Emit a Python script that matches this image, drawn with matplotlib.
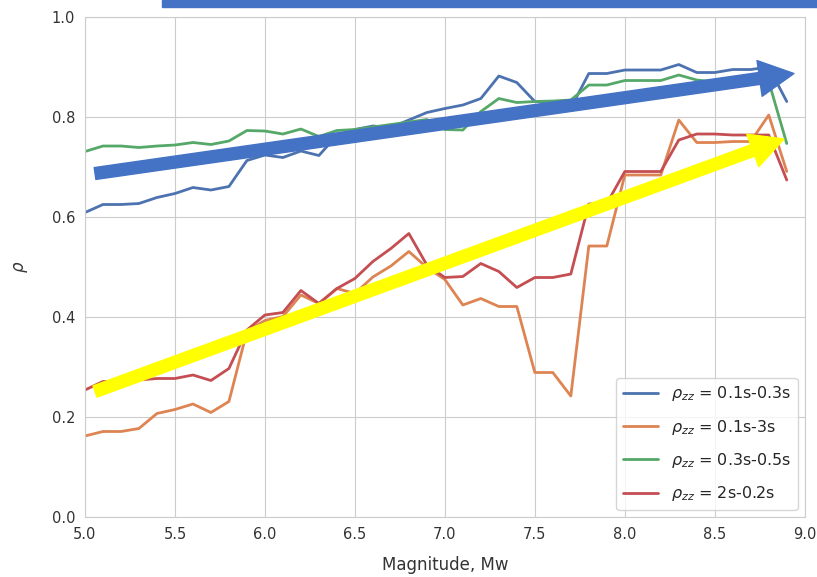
import numpy as np
import matplotlib
matplotlib.use('Agg')
import matplotlib.pyplot as plt
import seaborn as sns
from matplotlib.patches import FancyArrowPatch, ArrowStyle, Rectangle

mag = [5.0, 5.1, 5.2, 5.3, 5.4, 5.5, 5.6, 5.7, 5.8, 5.9,
       6.0, 6.1, 6.2, 6.3, 6.4, 6.5, 6.6, 6.7, 6.8, 6.9,
       7.0, 7.1, 7.2, 7.3, 7.4, 7.5, 7.6, 7.7, 7.8, 7.9,
       8.0, 8.1, 8.2, 8.3, 8.4, 8.5, 8.6, 8.7, 8.8, 8.9]

rho_01_03 = [0.609, 0.625, 0.625, 0.627, 0.639, 0.647, 0.659, 0.654, 0.661, 0.713,
             0.724, 0.719, 0.732, 0.723, 0.763, 0.775, 0.782, 0.779, 0.794, 0.809,
             0.817, 0.824, 0.837, 0.882, 0.869, 0.831, 0.830, 0.818, 0.887, 0.887,
             0.894, 0.894, 0.894, 0.905, 0.889, 0.889, 0.895, 0.895, 0.900, 0.831]
rho_01_3 = [0.162, 0.171, 0.171, 0.177, 0.207, 0.215, 0.226, 0.209, 0.231, 0.371,
            0.393, 0.401, 0.444, 0.427, 0.457, 0.447, 0.480, 0.502, 0.531, 0.499,
            0.475, 0.424, 0.437, 0.421, 0.421, 0.289, 0.289, 0.242, 0.542, 0.542,
            0.684, 0.684, 0.684, 0.794, 0.749, 0.749, 0.751, 0.751, 0.804, 0.691]
rho_03_05 = [0.731, 0.742, 0.742, 0.739, 0.742, 0.744, 0.749, 0.745, 0.752, 0.773,
             0.772, 0.766, 0.776, 0.761, 0.773, 0.775, 0.780, 0.785, 0.790, 0.795,
             0.775, 0.774, 0.811, 0.837, 0.829, 0.831, 0.832, 0.834, 0.864, 0.864,
             0.873, 0.873, 0.873, 0.884, 0.874, 0.870, 0.870, 0.868, 0.871, 0.747]
rho_2_02 = [0.254, 0.271, 0.271, 0.274, 0.277, 0.277, 0.284, 0.273, 0.297, 0.374,
            0.404, 0.409, 0.453, 0.427, 0.457, 0.477, 0.511, 0.537, 0.567, 0.504,
            0.479, 0.481, 0.507, 0.491, 0.459, 0.479, 0.479, 0.486, 0.626, 0.627,
            0.691, 0.691, 0.691, 0.754, 0.766, 0.766, 0.764, 0.764, 0.764, 0.674]

series = [(r'$\rho_{zz}$ = 0.1s-0.3s', rho_01_03),
          (r'$\rho_{zz}$ = 0.1s-3s', rho_01_3),
          (r'$\rho_{zz}$ = 0.3s-0.5s', rho_03_05),
          (r'$\rho_{zz}$ = 2s-0.2s', rho_2_02)]

# trend arrows (data coords: start -> tip)
blue_arrow = ((5.056, 0.687), (8.94, 0.887))
yellow_arrow = ((5.056, 0.251), (8.885, 0.756))

sns.set_style('whitegrid')
colors = sns.color_palette('deep')

fig = plt.figure(figsize=(8.17, 5.77), dpi=100)
ax = fig.add_axes([0.104, 0.104, 0.881, 0.8665])

for i, (lab, vals) in enumerate(series):
    ax.plot(mag, vals, color=colors[i], linewidth=2.0, label=lab)

ax.set_xlim(5.0, 9.0)
ax.set_ylim(0.0, 1.0)
ax.set_xticks(np.arange(5.0, 9.01, 0.5))
ax.set_yticks(np.arange(0.0, 1.01, 0.2))
ax.tick_params(labelsize=10.5, colors='#333333')
ax.set_xlabel('Magnitude, Mw', fontsize=12, labelpad=10, color='#333333')
ax.set_ylabel(r'$\rho$', fontsize=12, labelpad=16, color='#333333')
ax.legend(loc='lower right', fontsize=11.5, labelspacing=0.9, handlelength=2.2,
          borderaxespad=0.45, framealpha=0.8)

st_blue = ArrowStyle.Simple(head_length=25, head_width=26, tail_width=8.6)
st_yel = ArrowStyle.Simple(head_length=24, head_width=25, tail_width=8.6)
ax.add_patch(FancyArrowPatch(blue_arrow[0], blue_arrow[1], arrowstyle=st_blue,
                             mutation_scale=1, shrinkA=0, shrinkB=0,
                             color='#4472C4', zorder=5, clip_on=False))
ax.add_patch(FancyArrowPatch(yellow_arrow[0], yellow_arrow[1], arrowstyle=st_yel,
                             mutation_scale=1, shrinkA=0, shrinkB=0,
                             color='#FFFF00', zorder=5, clip_on=False))

fig.patches.append(Rectangle((162 / 817, 1 - 7 / 577), 1 - 162 / 817, 7 / 577,
                             transform=fig.transFigure, color='#4472C4', zorder=10))

fig.savefig('out.png', dpi=100)
